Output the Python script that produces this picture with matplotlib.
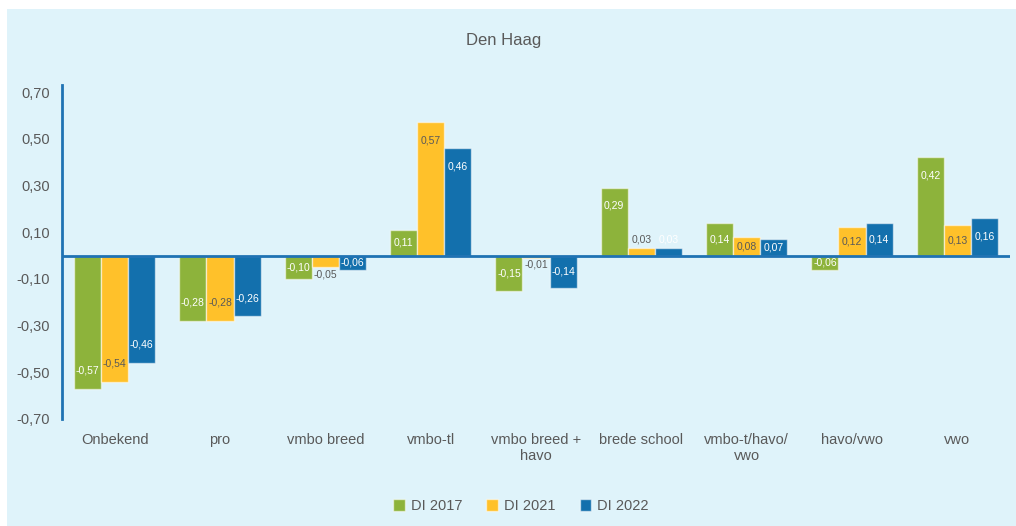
import matplotlib
matplotlib.use("Agg")
import matplotlib.pyplot as plt
from matplotlib.patches import Rectangle
import numpy as np

categories = ["Onbekend", "pro", "vmbo breed", "vmbo-tl", "vmbo breed +\nhavo",
              "brede school", "vmbo-t/havo/\nvwo", "havo/vwo", "vwo"]
di_2017 = [-0.57, -0.28, -0.10, 0.11, -0.15, 0.29, 0.14, -0.06, 0.42]
di_2021 = [-0.54, -0.28, -0.05, 0.57, -0.01, 0.03, 0.08, 0.12, 0.13]
di_2022 = [-0.46, -0.26, -0.06, 0.46, -0.14, 0.03, 0.07, 0.14, 0.16]
series_names = ["DI 2017", "DI 2021", "DI 2022"]
yticks = [-0.70, -0.50, -0.30, -0.10, 0.10, 0.30, 0.50, 0.70]
title = "Den Haag"

colors = ["#8DB33B", "#FFC12A", "#1370AD"]
label_colors = ["white", "#595959", "white"]
bg = "#DFF3FA"
axis_blue = "#1F72B3"
text_gray = "#595959"

plt.rcParams["font.family"] = ["Liberation Sans", "DejaVu Sans"]

W, H = 1016, 526
fig = plt.figure(figsize=(W / 100, H / 100), dpi=100, facecolor="white")
fig.patches.append(Rectangle((7 / W, 0), 1 - 7 / W, 1 - 9 / H,
                             transform=fig.transFigure, facecolor=bg,
                             edgecolor="none", zorder=-10))

left, right = 62 / W, 1010 / W
bottom, top = 1 - 419 / H, 1 - 85 / H
ax = fig.add_axes([left, bottom, right - left, top - bottom])
ax.set_facecolor("none")

x = np.arange(len(categories))
bw = 0.257
all_series = [di_2017, di_2021, di_2022]
for i, (vals, name) in enumerate(zip(all_series, series_names)):
    pos = x + (i - 1) * bw
    ax.bar(pos, vals, width=bw, color=colors[i], edgecolor=(1, 1, 1, 0.55),
           linewidth=1.0, label=name, zorder=2)
    for px_, v in zip(pos, vals):
        s = 1 if v >= 0 else -1
        a = abs(v)
        if a >= 0.2:
            ly = v - s * 0.077
        elif a >= 0.06:
            ly = v / 2
        else:
            ly = v + (0.04 if s > 0 else -0.03)
        ax.text(px_, ly, f"{v:.2f}".replace(".", ","), ha="center", va="center",
                fontsize=7.5, color=label_colors[i], zorder=3)

ax.set_xlim(-0.5, len(categories) - 0.5)
ax.set_ylim(-0.70, 0.73)
ax.set_yticks(yticks)
ax.set_yticklabels([f"{t:.2f}".replace(".", ",") for t in yticks])
ax.set_xticks(x)
ax.set_xticklabels(categories)
ax.tick_params(axis="both", length=0, labelsize=10.5, colors=text_gray)
ax.tick_params(axis="y", pad=9)
ax.tick_params(axis="x", pad=10)
for sp in ["top", "right", "bottom"]:
    ax.spines[sp].set_visible(False)
ax.spines["left"].set_color(axis_blue)
ax.spines["left"].set_linewidth(2)
ax.axhline(0, color=axis_blue, linewidth=2, zorder=4)

fig.text(504 / W, 1 - 40 / H, title, ha="center", va="center",
         fontsize=12, color=text_gray)

leg = fig.legend(loc="center", bbox_to_anchor=(521 / W, 1 - 506 / H), ncol=3,
                 frameon=False, fontsize=10.5, handlelength=0.8, handleheight=0.8,
                 handletextpad=0.4, columnspacing=1.65, labelcolor=text_gray)

fig.savefig("out.png", dpi=100, facecolor=fig.get_facecolor())
